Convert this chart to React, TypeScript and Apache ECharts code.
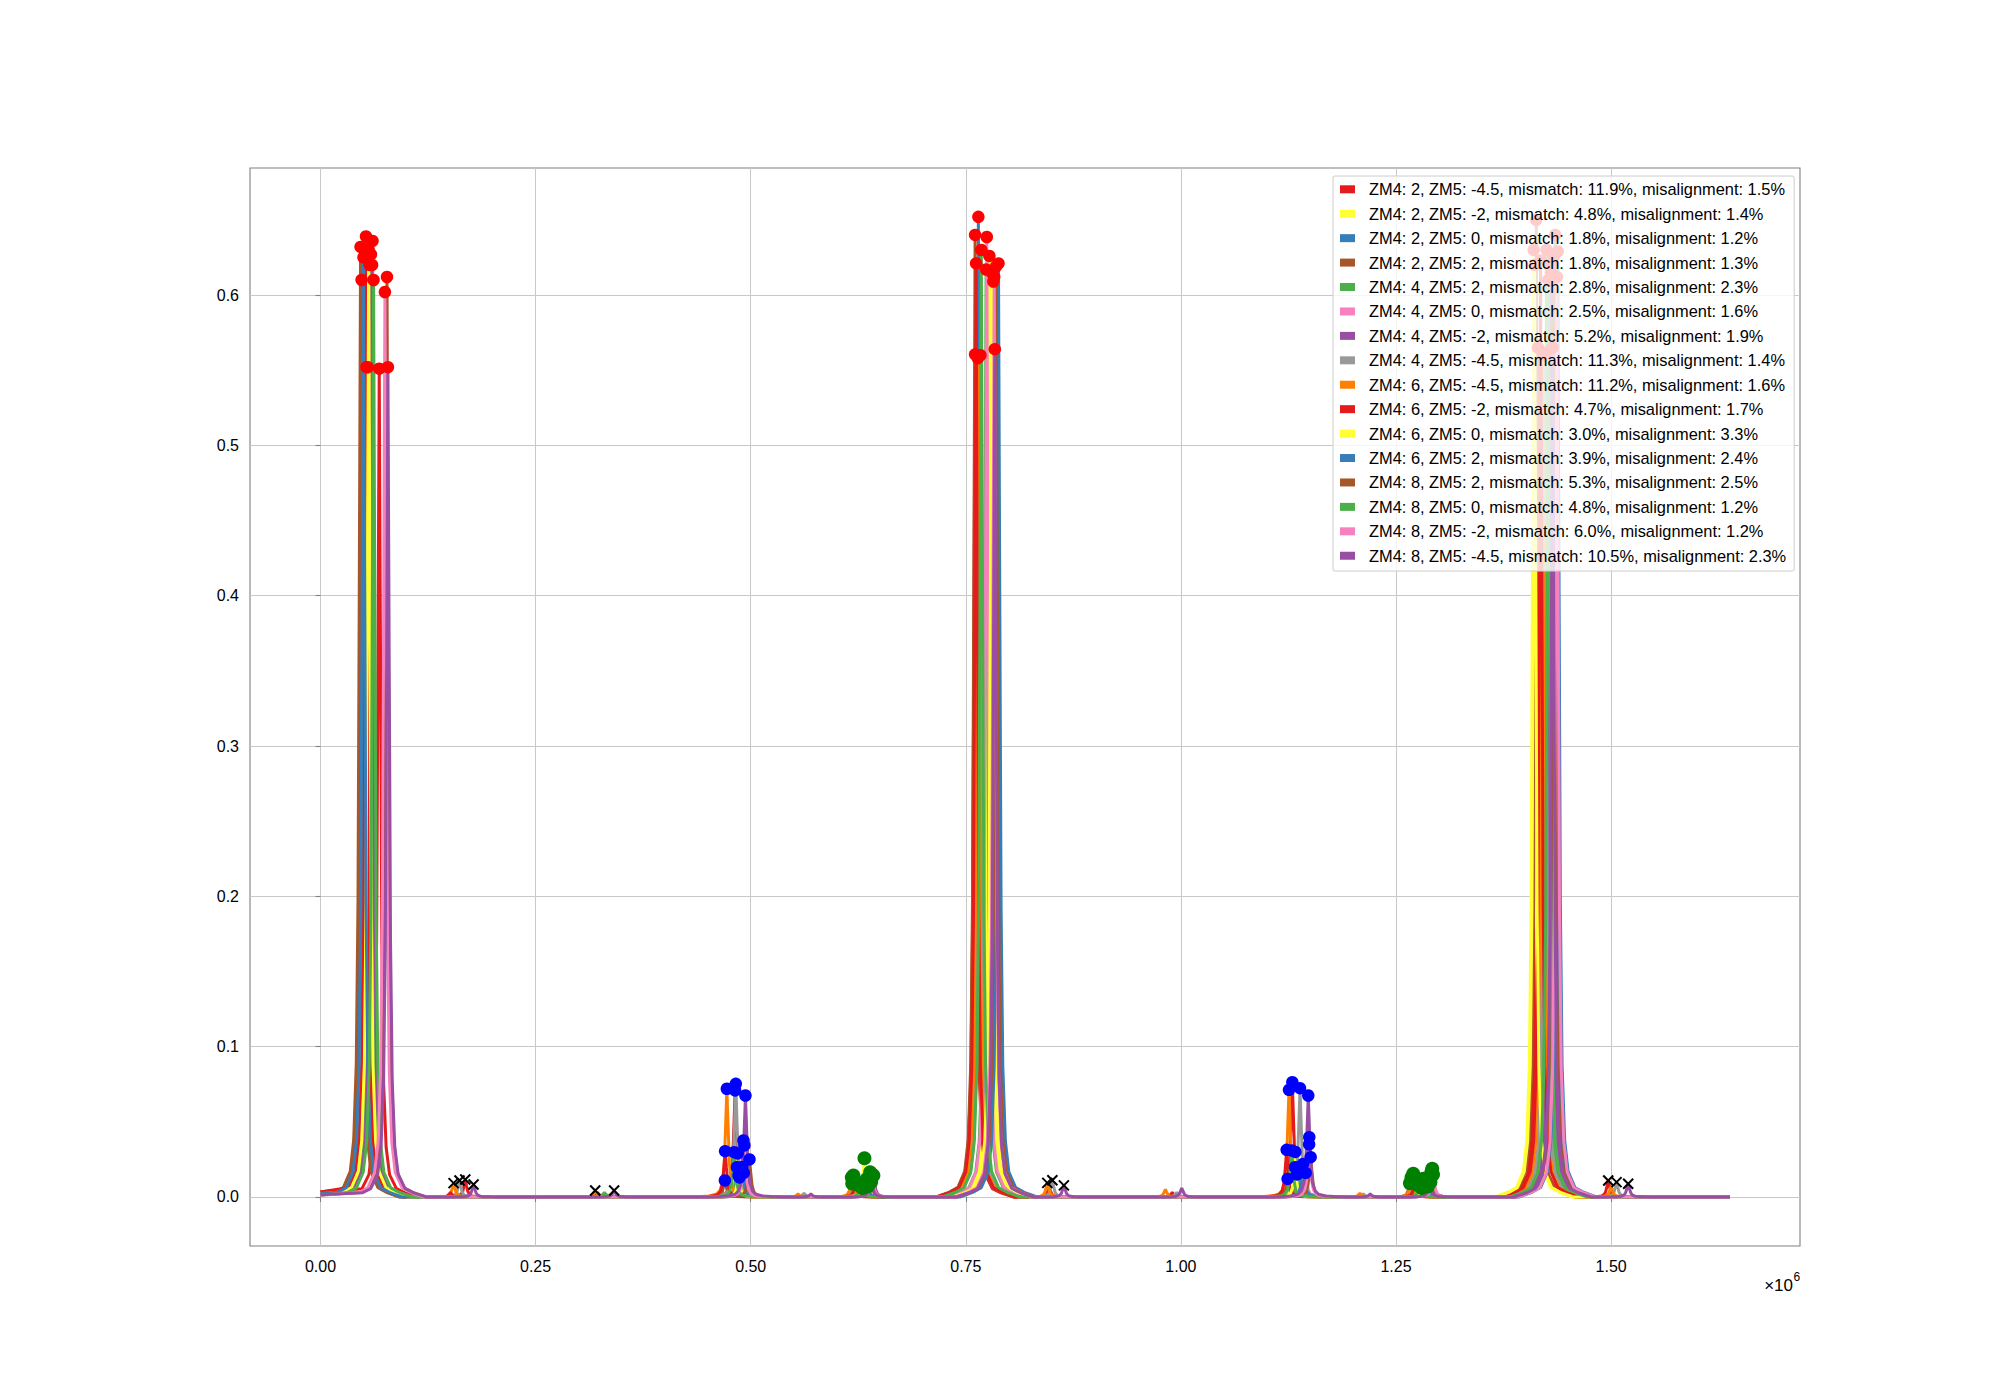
import React, { useEffect, useRef } from "react";
import * as echarts from "echarts";

const FONT = "'Liberation Sans', Arial, Helvetica, sans-serif";

const SERIES_NAMES = [
  "ZM4: 2, ZM5: -4.5, mismatch: 11.9%, misalignment: 1.5%",
  "ZM4: 2, ZM5: -2, mismatch: 4.8%, misalignment: 1.4%",
  "ZM4: 2, ZM5: 0, mismatch: 1.8%, misalignment: 1.2%",
  "ZM4: 2, ZM5: 2, mismatch: 1.8%, misalignment: 1.3%",
  "ZM4: 4, ZM5: 2, mismatch: 2.8%, misalignment: 2.3%",
  "ZM4: 4, ZM5: 0, mismatch: 2.5%, misalignment: 1.6%",
  "ZM4: 4, ZM5: -2, mismatch: 5.2%, misalignment: 1.9%",
  "ZM4: 4, ZM5: -4.5, mismatch: 11.3%, misalignment: 1.4%",
  "ZM4: 6, ZM5: -4.5, mismatch: 11.2%, misalignment: 1.6%",
  "ZM4: 6, ZM5: -2, mismatch: 4.7%, misalignment: 1.7%",
  "ZM4: 6, ZM5: 0, mismatch: 3.0%, misalignment: 3.3%",
  "ZM4: 6, ZM5: 2, mismatch: 3.9%, misalignment: 2.4%",
  "ZM4: 8, ZM5: 2, mismatch: 5.3%, misalignment: 2.5%",
  "ZM4: 8, ZM5: 0, mismatch: 4.8%, misalignment: 1.2%",
  "ZM4: 8, ZM5: -2, mismatch: 6.0%, misalignment: 1.2%",
  "ZM4: 8, ZM5: -4.5, mismatch: 10.5%, misalignment: 2.3%",
];

const SERIES_COLORS = [
  "#e41a1c", "#ffff33", "#377eb8", "#a65628", "#4daf4a", "#f781bf", "#984ea3", "#999999",
  "#ff7f00", "#e41a1c", "#ffff33", "#377eb8", "#a65628", "#4daf4a", "#f781bf", "#984ea3",
];

// x values are in units of 10^6
const X_TICKS = [0, 0.25, 0.5, 0.75, 1.0, 1.25, 1.5];
const Y_TICKS = [0, 0.1, 0.2, 0.3, 0.4, 0.5, 0.6];
const X_END = 1.638;

// level at the start of each trace (x = 0)
const START_Y = [0.0035, 0.0025, 0.002, 0.003, 0.0018, 0.0015, 0.0015, 0.0028, 0.003, 0.0034, 0.0022, 0.0025, 0.0015, 0.0012, 0.0012, 0.0015];

// main peaks (red dots)
const MAIN1_X = [0.0683, 0.057, 0.0478, 0.0466, 0.0587, 0.0605, 0.06, 0.055, 0.0535, 0.0529, 0.056, 0.05, 0.0773, 0.0617, 0.0749, 0.0784];
const MAIN1_Y = [0.551, 0.62, 0.61, 0.632, 0.627, 0.636, 0.62, 0.552, 0.552, 0.639, 0.63, 0.625, 0.612, 0.61, 0.602, 0.552];
const MAIN2_X = [0.7608, 0.7774, 0.7646, 0.7608, 0.7736, 0.7744, 0.782, 0.767, 0.764, 0.762, 0.78, 0.788, 0.7852, 0.768, 0.783, 0.7837];
const MAIN2_Y = [0.5605, 0.626, 0.652, 0.64, 0.617, 0.6386, 0.609, 0.56, 0.558, 0.621, 0.615, 0.621, 0.619, 0.63, 0.612, 0.564];
const MAIN3_X = [1.415, 1.41, 1.435, 1.413, 1.425, 1.428, 1.43, 1.423, 1.42, 1.418, 1.411, 1.438, 1.433, 1.427, 1.437, 1.432];
const MAIN3_Y = [0.565, 0.63, 0.64, 0.65, 0.63, 0.62, 0.615, 0.56, 0.562, 0.623, 0.62, 0.629, 0.625, 0.61, 0.612, 0.565];

// side peaks (blue dots)
const SIDE1_X = [0.4819, 0.485, 0.487, 0.47, 0.484, 0.492, 0.4916, 0.4827, 0.4723, 0.4703, 0.4858, 0.49, 0.4986, 0.4808, 0.4927, 0.4939];
const SIDE1_Y = [0.0709, 0.029, 0.013, 0.011, 0.0198, 0.016, 0.0376, 0.0753, 0.072, 0.0305, 0.0143, 0.02, 0.025, 0.0298, 0.0343, 0.0675];
const SIDE2_X = [1.1295, 1.133, 1.135, 1.124, 1.1384, 1.145, 1.1492, 1.1384, 1.1256, 1.1229, 1.1326, 1.142, 1.1508, 1.1287, 1.149, 1.148];
const SIDE2_Y = [0.0764, 0.03, 0.015, 0.012, 0.02, 0.016, 0.0398, 0.0724, 0.0713, 0.0314, 0.0198, 0.022, 0.0265, 0.031, 0.035, 0.0675];

// small peaks (green dots)
const THIRD1_X = [0.62, 0.625, 0.63, 0.618, 0.635, 0.64, 0.6426, 0.6194, 0.6175, 0.622, 0.6322, 0.636, 0.6388, 0.628, 0.641, 0.64];
const THIRD1_Y = [0.011, 0.008, 0.006, 0.009, 0.012, 0.01, 0.0143, 0.0143, 0.013, 0.01, 0.0258, 0.007, 0.0165, 0.009, 0.015, 0.013];
const THIRD2_X = [1.2689, 1.275, 1.28, 1.2662, 1.285, 1.29, 1.2921, 1.27, 1.268, 1.272, 1.2817, 1.287, 1.291, 1.278, 1.293, 1.2894];
const THIRD2_Y = [0.011, 0.008, 0.006, 0.0092, 0.012, 0.01, 0.0188, 0.0154, 0.013, 0.01, 0.0121, 0.007, 0.0165, 0.009, 0.015, 0.0098];

// minor peaks marked with black crosses: [series, x, y]
const MINOR_PEAKS = [
  [8, 0.1547, 0.0092], [7, 0.1616, 0.011], [0, 0.1683, 0.0116], [15, 0.1779, 0.0083],
  [8, 0.3193, 0.0043], [15, 0.3413, 0.0043],
  [8, 0.8447, 0.0094], [7, 0.8506, 0.0111], [15, 0.864, 0.0077],
  [0, 1.4966, 0.011], [7, 1.5063, 0.0099], [15, 1.5198, 0.0088],
];

// unmarked bumps: [series, x, y]
const BUMPS = [
  [9, 0.151, 0.003], [4, 0.16, 0.002], [0, 0.322, 0.003], [4, 0.33, 0.003], [1, 0.335, 0.002],
  [8, 0.555, 0.002], [7, 0.562, 0.0025], [15, 0.57, 0.002],
  [8, 0.982, 0.005], [0, 0.99, 0.003], [7, 0.995, 0.003], [15, 1.001, 0.006],
  [8, 1.208, 0.0025], [7, 1.212, 0.002], [15, 1.22, 0.002],
  [0, 0.847, 0.006], [8, 1.5, 0.007],
];

// line shape around a peak: offset (x, 10^6 units) and fraction of the peak height
const PROFILE_DX = [-0.045, -0.03, -0.02, -0.012, -0.008, -0.005, -0.003, -0.0015, 0, 0.0015, 0.003, 0.005, 0.008, 0.012, 0.02, 0.03, 0.045];
const PROFILE_REL = [0, 0.005, 0.01, 0.027, 0.06, 0.14, 0.31, 0.64, 1, 0.64, 0.31, 0.14, 0.06, 0.027, 0.01, 0.005, 0];

const PEAK_GROUPS = [
  [MAIN1_X, MAIN1_Y], [SIDE1_X, SIDE1_Y], [THIRD1_X, THIRD1_Y],
  [MAIN2_X, MAIN2_Y], [SIDE2_X, SIDE2_Y], [THIRD2_X, THIRD2_Y],
  [MAIN3_X, MAIN3_Y],
];

function buildLine(i: number): number[][] {
  const peaks: number[][] = [];
  PEAK_GROUPS.forEach(([xs, ys]) => peaks.push([xs[i], ys[i]]));
  MINOR_PEAKS.forEach(([s, x, y]) => { if (s === i) peaks.push([x, y]); });
  BUMPS.forEach(([s, x, y]) => { if (s === i) peaks.push([x, y]); });
  peaks.sort((a, b) => a[0] - b[0]);
  const pts: number[][] = [[0, START_Y[i]]];
  peaks.forEach(([px, ph], k) => {
    PROFILE_DX.forEach((dx, j) => {
      const x = px + dx;
      const y = ph * PROFILE_REL[j];
      const last = pts[pts.length - 1];
      if (x <= last[0]) return;
      if (k === 0 && dx < 0 && y < START_Y[i]) return;
      pts.push([x, y]);
    });
  });
  pts.push([X_END, 0]);
  return pts;
}

function pick(groups: number[][][]): number[][] {
  const out: number[][] = [];
  groups.forEach(([xs, ys]) => xs.forEach((x, i) => out.push([x, ys[i]])));
  return out;
}

export default function App() {
  const ref = useRef<HTMLDivElement>(null);
  useEffect(() => {
    if (!ref.current) return;
    const chart = echarts.init(ref.current, null, { renderer: "svg" });

    const lineSeries = SERIES_NAMES.map((name, i) => ({
      name,
      type: "line",
      data: buildLine(i),
      showSymbol: false,
      symbol: "none",
      silent: true,
      z: 2,
      color: SERIES_COLORS[i],
      itemStyle: { color: SERIES_COLORS[i] },
      lineStyle: { color: SERIES_COLORS[i], width: 3 },
    }));

    const redDots = pick([[MAIN1_X, MAIN1_Y], [MAIN2_X, MAIN2_Y], [MAIN3_X, MAIN3_Y]]);
    const blueDots = pick([[SIDE1_X, SIDE1_Y], [SIDE2_X, SIDE2_Y]]);
    const greenDots = pick([[THIRD1_X, THIRD1_Y], [THIRD2_X, THIRD2_Y]]);
    const crosses = MINOR_PEAKS.map(([, x, y]) => [x, y]);

    const option = {
      animation: false,
      backgroundColor: "#ffffff",
      textStyle: { fontFamily: FONT },
      grid: {
        left: 250, right: 200, top: 168, bottom: 154,
        show: true, borderColor: "#808080", borderWidth: 1.1, backgroundColor: "transparent",
      },
      xAxis: {
        type: "value",
        min: -0.0819,
        max: 1.7195,
        axisLine: { show: false },
        axisTick: { show: true, length: 5, customValues: X_TICKS, lineStyle: { color: "#808080", width: 1.1 } },
        axisLabel: {
          customValues: X_TICKS,
          formatter: (v: number) => v.toFixed(2),
          fontSize: 16, color: "#000", margin: 12, fontFamily: FONT,
        },
        splitLine: { show: true, lineStyle: { color: "#c8c8c8", width: 1 } },
      },
      yAxis: {
        type: "value",
        min: -0.0326,
        max: 0.6845,
        axisLine: { show: false },
        axisTick: { show: true, length: 5, customValues: Y_TICKS, lineStyle: { color: "#808080", width: 1.1 } },
        axisLabel: {
          customValues: Y_TICKS,
          formatter: (v: number) => v.toFixed(1),
          fontSize: 16, color: "#000", margin: 11, fontFamily: FONT,
        },
        splitLine: { show: true, lineStyle: { color: "#c8c8c8", width: 1 } },
      },
      legend: {
        data: SERIES_NAMES,
        orient: "vertical",
        left: 1333,
        top: 176,
        icon: "rect",
        itemWidth: 15,
        itemHeight: 8,
        itemGap: 6.43,
        padding: [4.3, 8, 6.3, 7],
        backgroundColor: "rgba(255,255,255,0.8)",
        borderColor: "#cccccc",
        borderWidth: 1,
        borderRadius: 2,
        selectedMode: false,
        z: 10,
        textStyle: { fontSize: 16.4, color: "#000", lineHeight: 18, fontFamily: FONT, padding: [0, 0, 0, 9] },
      },
      graphic: [
        {
          type: "text", x: 1793, y: 1285, z: 10,
          style: { text: "×10", fontSize: 17, fontFamily: FONT, fill: "#000", align: "right", verticalAlign: "middle" },
        },
        {
          type: "text", x: 1793.5, y: 1277, z: 10,
          style: { text: "6", fontSize: 12, fontFamily: FONT, fill: "#000", align: "left", verticalAlign: "middle" },
        },
      ],
      series: [
        ...lineSeries,
        {
          name: "peaks", type: "scatter", data: redDots, symbol: "circle", symbolSize: 12.5, z: 3, silent: true,
          itemStyle: { color: "#ff0000", opacity: 1 },
        },
        {
          name: "side", type: "scatter", data: blueDots, symbol: "circle", symbolSize: 12.5, z: 3, silent: true,
          itemStyle: { color: "#0000ff", opacity: 1 },
        },
        {
          name: "small", type: "scatter", data: greenDots, symbol: "circle", symbolSize: 14, z: 3, silent: true,
          itemStyle: { color: "#008000", opacity: 1 },
        },
        {
          name: "minor", type: "scatter", data: crosses, symbol: "path://M0,0L10,10M10,0L0,10", symbolSize: 10, z: 3, silent: true,
          itemStyle: { color: "#000000", borderColor: "#000000", borderWidth: 2, opacity: 1 },
        },
      ],
    };
    chart.setOption(option as any);
    return () => chart.dispose();
  }, []);
  return (
    <div
      ref={ref}
      style={{ position: "fixed", left: 0, top: 0, width: 2000, height: 1400, background: "#fff" }}
    />
  );
}
